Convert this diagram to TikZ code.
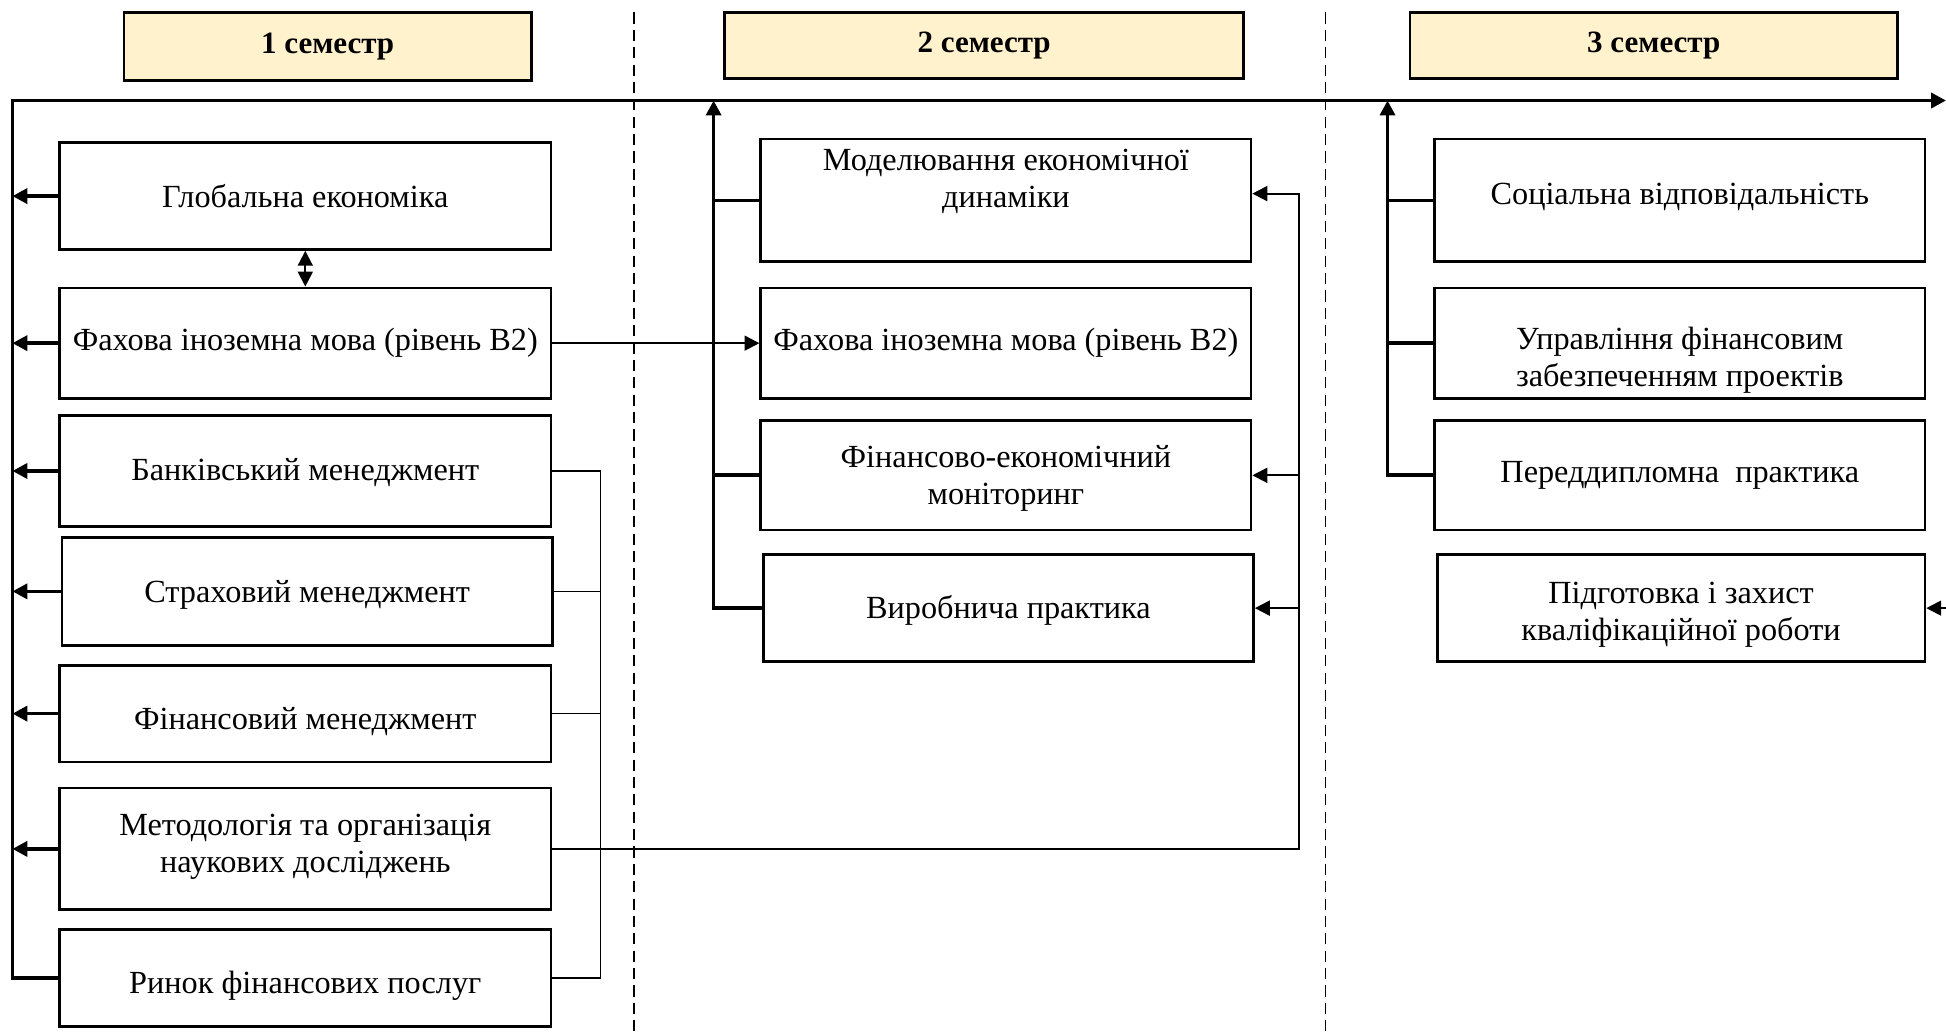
\documentclass[tikz,border=0pt]{standalone}
\usepackage{fontspec}
\setmainfont{Liberation Serif}
\usetikzlibrary{arrows.meta}
\definecolor{hdr}{RGB}{255,242,204}
\newcommand{\upby}[2]{\raisebox{#1}[0pt][0pt]{\begin{tabular}{@{}c@{}}#2\end{tabular}}}
\tikzset{
  bx/.style n args={2}{draw, line width=1.1pt, minimum width=#1*0.5pt, minimum height=#2*0.5pt,
    inner sep=0pt, align=center, font=\fontsize{13}{15}\selectfont},
  hd/.style n args={2}{bx={#1}{#2}, fill=hdr, font=\fontsize{12.5}{15}\selectfont\bfseries},
  thk/.style={line width=1.5pt},
  med/.style={line width=0.8pt},
  thn/.style={line width=0.5pt},
  dsh/.style={line width=0.7pt, dash pattern=on 4.5pt off 2.5pt},
  tip/.style={-{Triangle[length=6pt,width=6pt]}},
}
\begin{document}
\begin{tikzpicture}[x=0.5pt,y=-0.5pt]
\useasboundingbox (0,0) rectangle (1568,834);
% dashed separators
\coordinate (d1t) at (511,10); \coordinate (d1b) at (511,834);
\coordinate (d2t) at (1068,10); \coordinate (d2b) at (1068,834);
\draw[dsh] (d1t) -- (d1b);
\draw[dsh] (d2t) -- (d2b);
% headers
\node[hd={328}{55}] (h1) at (264,37.5) {1 семестр};
\node[hd={418}{53}] (h2) at (793,36.5) {2 семестр};
\node[hd={393}{53}] (h3) at (1332.5,36.5) {3 семестр};
% column 1
\node[bx={396}{86}] (glob) at (246,158) {Глобальна економіка};
\node[bx={396}{89}] (fah1) at (246,276.5) {Фахова іноземна мова (рівень В2)};
\node[bx={396}{89}] (bank) at (246,379.5) {\upby{-4pt}{Банківський менеджмент}};
\node[bx={395}{87}] (strakh) at (247.5,476.5) {\upby{-4.5pt}{Страховий менеджмент}};
\node[bx={396}{78}] (fin) at (246,575) {\upby{-6.25pt}{Фінансовий менеджмент}};
\node[bx={396}{98}] (metod) at (246,684) {\upby{-2pt}{Методологія та організація\\наукових досліджень}};
\node[bx={396}{78}] (rynok) at (246,788) {\upby{-6.25pt}{Ринок фінансових послуг}};
% column 2
\node[bx={395}{99}] (model) at (810.5,161.5) {\upby{4.5pt}{Моделювання економічної\\динаміки}};
\node[bx={395}{89}] (fah2) at (810.5,276.5) {Фахова іноземна мова (рівень В2)};
\node[bx={395}{88}] (finmon) at (810.5,383) {\upby{-4.25pt}{Фінансово-економічний\\моніторинг}};
\node[bx={395}{86}] (vyrob) at (812.5,490) {\upby{-4.25pt}{Виробнича практика}};
% column 3
\node[bx={395}{99}] (soc) at (1353.5,161.5) {\upby{-1.5pt}{Соціальна відповідальність}};
\node[bx={395}{89}] (upr) at (1353.5,276.5) {\upby{-10pt}{Управління фінансовим\\забезпеченням проектів}};
\node[bx={395}{88}] (pered) at (1353.5,383) {Переддипломна\ \ практика};
\node[bx={393}{86}] (pidg) at (1354.5,490) {\upby{-5.5pt}{Підготовка і захист\\кваліфікаційної роботи}};
% main timeline
\coordinate (TL) at (10,81);
\coordinate (TR) at (1568,81);
\draw[thk,tip] (rynok.west) -| (TL) -- (TR);
% column 1 arrows to the left line
\foreach \n in {glob,fah1,bank,strakh,fin,metod}
  \draw[thk,tip] (\n.west) -- (\n.west -| TL);
\draw[med,{Triangle[length=6pt,width=6pt]}-{Triangle[length=6pt,width=6pt]}] (glob.south) -- (fah1.north);
\draw[med,tip] (fah1.east) -- (fah2.west);
% thin bracket
\coordinate (br) at (484,379.5);
\draw[thn] (bank.east) -- (br) -- (br |- rynok.east) -- (rynok.east);
\draw[thn] (strakh.east) -- (strakh.east -| br);
\draw[thn] (fin.east) -- (fin.east -| br);
% methodology feed
\coordinate (vtop) at (1047,156);
\draw[med,tip] (metod.east) -| (vtop) -- (vtop -| model.east);
\draw[med,tip] (finmon.east -| vtop) -- (finmon.east);
\draw[med,tip] (vyrob.east -| vtop) -- (vyrob.east);
% column 2 riser
\coordinate (c2top) at (575,81);
\draw[thk,tip] (vyrob.west) -| (c2top);
\draw[thk] (model.west) -- (model.west -| c2top);
\draw[thk] (finmon.west) -- (finmon.west -| c2top);
% column 3 riser
\coordinate (c3top) at (1118,81);
\draw[thk,tip] (pered.west) -| (c3top);
\draw[thk] (soc.west) -- (soc.west -| c3top);
\draw[thk] (upr.west) -- (upr.west -| c3top);
% feed into last box
\coordinate (pr) at (1568,490);
\draw[med,tip] (pr) -- (pidg.east);
\end{tikzpicture}
\end{document}
